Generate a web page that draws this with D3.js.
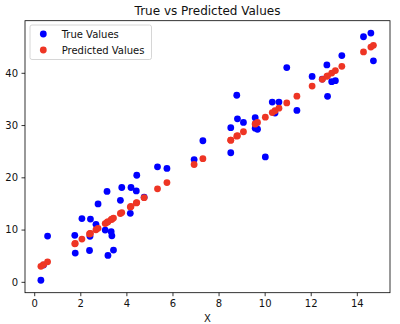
<!DOCTYPE html>
<html>
<head>
<meta charset="utf-8">
<script src="https://cdn.jsdelivr.net/npm/d3@7"></script>
<style>
  html, body { margin: 0; padding: 0; background: #fff; }
  svg { display: block; font-family: "DejaVu Sans", sans-serif; }
</style>
</head>
<body>
<svg id="chart" width="400" height="324"></svg>
<script>
// ---- data ----
const xValues = [0.29, 0.40, 0.58, 1.76, 1.78, 2.07, 2.40, 2.42, 2.44, 2.68, 2.77,
  3.08, 3.16, 3.20, 3.34, 3.37, 3.44, 3.74, 3.80, 4.17, 4.20, 4.43, 4.45, 4.77,
  5.35, 5.76, 6.94, 7.32, 8.53, 8.53, 8.79, 8.82, 9.08, 9.59, 9.59, 9.69, 10.03,
  10.33, 10.45, 10.62, 10.96, 11.40, 12.06, 12.50, 12.70, 12.73, 12.91, 13.07,
  13.35, 14.29, 14.61, 14.72];
const trueValues = [0.3, 3.2, 8.75, 8.9, 5.5, 12.1, 6.0, 8.7, 12.0, 11.0, 14.9,
  9.9, 17.3, 5.05, 9.6, 8.8, 6.07, 15.6, 18.05, 13.1, 18.05, 17.4, 20.4, 16.2,
  22.0, 21.7, 23.4, 27.0, 29.5, 24.7, 35.7, 31.2, 30.5, 31.4, 29.4, 29.2, 23.9,
  34.4, 32.3, 34.4, 41.0, 32.8, 39.3, 38.8, 41.5, 35.5, 38.3, 38.5,
  43.3, 46.9, 47.6, 42.3];
const predictedValues = [2.97, 3.29, 3.82, 7.28, 7.34, 8.19, 9.15, 9.21, 9.27, 9.97, 10.24,
  11.14, 11.38, 11.50, 11.91, 11.99, 12.20, 13.08, 13.25, 14.34, 14.43, 15.10, 15.16, 16.10,
  17.80, 19.00, 22.45, 23.57, 27.11, 27.11, 27.87, 27.96, 28.72, 30.22, 30.22, 30.51, 31.51,
  32.39, 32.74, 33.24, 34.23, 35.52, 37.46, 38.75, 39.33, 39.42, 39.95, 40.42,
  41.24, 43.99, 44.93, 45.25];
const xTicks = [0, 2, 4, 6, 8, 10, 12, 14];
const yTicks = [0, 10, 20, 30, 40];
const seriesNames = ["True Values", "Predicted Values"];
const seriesColors = ["#0000ff", "#ee3524"];
const titleText = "True vs Predicted Values";
const xLabelText = "X";

// ---- layout ----
const svg = d3.select("#chart");
const plotLeft = 25, plotRight = 390, plotTop = 20.7, plotBottom = 292.7;
const dotR = 3.4;

const x = d3.scaleLinear().domain([-0.40, 15.44]).range([plotLeft, plotRight]);
const y = d3.scaleLinear().domain([-2.08, 49.97]).range([plotBottom, plotTop]);

// title
svg.append("text")
  .attr("x", (plotLeft + plotRight) / 2).attr("y", 14.7)
  .attr("text-anchor", "middle")
  .attr("font-size", 12).attr("fill", "#111")
  .text(titleText);

// axes
const xAxis = d3.axisBottom(x).tickValues(xTicks).tickSize(3.5).tickPadding(3.5).tickFormat(d3.format("d"));
const yAxis = d3.axisLeft(y).tickValues(yTicks).tickSize(3.5).tickPadding(3.5).tickFormat(d3.format("d"));

const gx = svg.append("g").attr("transform", `translate(0,${plotBottom})`).call(xAxis);
const gy = svg.append("g").attr("transform", `translate(${plotLeft},0)`).call(yAxis);
[gx, gy].forEach(g => {
  g.select(".domain").remove();
  g.selectAll(".tick line").attr("stroke", "#000").attr("stroke-width", 0.8);
  g.selectAll(".tick text").attr("font-size", 10).attr("fill", "#111")
    .attr("font-family", "DejaVu Sans, sans-serif");
});

// points
const pts = xValues.map((xv, i) => ({ x: xv, t: trueValues[i], p: predictedValues[i] }));
svg.append("g").selectAll("circle").data(pts).join("circle")
  .attr("cx", d => x(d.x)).attr("cy", d => y(d.t)).attr("r", dotR)
  .attr("fill", seriesColors[0]);
svg.append("g").selectAll("circle").data(pts).join("circle")
  .attr("cx", d => x(d.x)).attr("cy", d => y(d.p)).attr("r", dotR)
  .attr("fill", seriesColors[1]);

// frame
svg.append("rect")
  .attr("x", plotLeft).attr("y", plotTop)
  .attr("width", plotRight - plotLeft).attr("height", plotBottom - plotTop)
  .attr("fill", "none").attr("stroke", "#000").attr("stroke-width", 0.8);

// x label
svg.append("text")
  .attr("x", (plotLeft + plotRight) / 2).attr("y", 321.5)
  .attr("text-anchor", "middle").attr("font-size", 10).attr("fill", "#111")
  .text(xLabelText);

// legend
const lg = svg.append("g");
lg.append("rect")
  .attr("x", 30).attr("y", 25).attr("width", 121.5).attr("height", 34.5)
  .attr("rx", 2).attr("ry", 2)
  .attr("fill", "#fff").attr("fill-opacity", 0.8)
  .attr("stroke", "#cccccc").attr("stroke-width", 0.8);
seriesNames.forEach((name, i) => {
  const cy = 34 + i * 16;
  lg.append("circle").attr("cx", 43.3).attr("cy", cy).attr("r", dotR).attr("fill", seriesColors[i]);
  lg.append("text").attr("x", 61.7).attr("y", cy + 3.6)
    .attr("font-size", 10).attr("fill", "#111").text(name);
});
</script>
</body>
</html>
